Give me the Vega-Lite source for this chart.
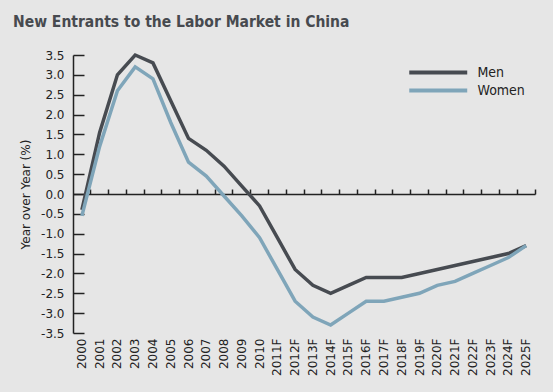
{
  "$schema": "https://vega.github.io/schema/vega-lite/v6.json",
  "width": 462,
  "height": 278,
  "autosize": {"type": "none"},
  "padding": {"left": 73, "top": 55, "right": 18, "bottom": 59},
  "background": "#e6e6e6",
  "config": {"view": {"stroke": null}},
  "title": {
    "text": "New Entrants to the Labor Market in China",
    "anchor": "start",
    "frame": "group",
    "dx": -60,
    "dy": 17,
    "offset": 23,
    "baseline": "alphabetic",
    "font": "DejaVu Sans Condensed, Roboto Condensed, Roboto, sans-serif",
    "fontSize": 15.5,
    "fontWeight": "bold",
    "color": "#474a4f"
  },
  "data": {
    "values": [
      {"year": "2000", "series": "Men", "value": -0.4},
      {"year": "2001", "series": "Men", "value": 1.55},
      {"year": "2002", "series": "Men", "value": 3.0},
      {"year": "2003", "series": "Men", "value": 3.5},
      {"year": "2004", "series": "Men", "value": 3.3},
      {"year": "2005", "series": "Men", "value": 2.35},
      {"year": "2006", "series": "Men", "value": 1.4},
      {"year": "2007", "series": "Men", "value": 1.1},
      {"year": "2008", "series": "Men", "value": 0.7},
      {"year": "2009", "series": "Men", "value": 0.2},
      {"year": "2010", "series": "Men", "value": -0.3},
      {"year": "2011F", "series": "Men", "value": -1.1},
      {"year": "2012F", "series": "Men", "value": -1.9},
      {"year": "2013F", "series": "Men", "value": -2.3},
      {"year": "2014F", "series": "Men", "value": -2.5},
      {"year": "2015F", "series": "Men", "value": -2.3},
      {"year": "2016F", "series": "Men", "value": -2.1},
      {"year": "2017F", "series": "Men", "value": -2.1},
      {"year": "2018F", "series": "Men", "value": -2.1},
      {"year": "2019F", "series": "Men", "value": -2.0},
      {"year": "2020F", "series": "Men", "value": -1.9},
      {"year": "2021F", "series": "Men", "value": -1.8},
      {"year": "2022F", "series": "Men", "value": -1.7},
      {"year": "2023F", "series": "Men", "value": -1.6},
      {"year": "2024F", "series": "Men", "value": -1.5},
      {"year": "2025F", "series": "Men", "value": -1.3},
      {"year": "2000", "series": "Women", "value": -0.55},
      {"year": "2001", "series": "Women", "value": 1.2},
      {"year": "2002", "series": "Women", "value": 2.6},
      {"year": "2003", "series": "Women", "value": 3.2},
      {"year": "2004", "series": "Women", "value": 2.9},
      {"year": "2005", "series": "Women", "value": 1.8},
      {"year": "2006", "series": "Women", "value": 0.8},
      {"year": "2007", "series": "Women", "value": 0.45},
      {"year": "2008", "series": "Women", "value": -0.05},
      {"year": "2009", "series": "Women", "value": -0.55},
      {"year": "2010", "series": "Women", "value": -1.1},
      {"year": "2011F", "series": "Women", "value": -1.9},
      {"year": "2012F", "series": "Women", "value": -2.7},
      {"year": "2013F", "series": "Women", "value": -3.1},
      {"year": "2014F", "series": "Women", "value": -3.3},
      {"year": "2015F", "series": "Women", "value": -3.0},
      {"year": "2016F", "series": "Women", "value": -2.7},
      {"year": "2017F", "series": "Women", "value": -2.7},
      {"year": "2018F", "series": "Women", "value": -2.6},
      {"year": "2019F", "series": "Women", "value": -2.5},
      {"year": "2020F", "series": "Women", "value": -2.3},
      {"year": "2021F", "series": "Women", "value": -2.2},
      {"year": "2022F", "series": "Women", "value": -2.0},
      {"year": "2023F", "series": "Women", "value": -1.8},
      {"year": "2024F", "series": "Women", "value": -1.6},
      {"year": "2025F", "series": "Women", "value": -1.3}
    ]
  },
  "layer": [
    {
      "mark": {"type": "rule", "strokeOpacity": 0},
      "encoding": {
        "x": {
          "field": "year",
          "type": "nominal",
          "sort": null,
          "scale": {"type": "band", "paddingInner": 0, "paddingOuter": 0},
          "axis": {
            "orient": "top",
            "offset": -139,
            "labels": false,
            "title": null,
            "domainColor": "#222222",
            "domainWidth": 1.5,
            "tickColor": "#222222",
            "tickWidth": 1.5,
            "tickSize": 5,
            "bandPosition": 1
          }
        }
      }
    },
    {
      "mark": {"type": "line", "strokeWidth": 3.5},
      "encoding": {
        "x": {
          "field": "year",
          "type": "nominal",
          "sort": null,
          "scale": {"type": "band", "paddingInner": 0, "paddingOuter": 0},
          "axis": {
            "orient": "bottom",
            "labelAngle": 270,
            "domain": false,
            "ticks": false,
            "labelPadding": 5,
            "title": null,
            "labelFont": "DejaVu Sans",
            "labelFontSize": 12,
            "labelColor": "#222222"
          }
        },
        "y": {
          "field": "value",
          "type": "quantitative",
          "scale": {"domain": [-3.5, 3.5], "nice": false, "zero": false},
          "axis": {
            "values": [-3.5, -3, -2.5, -2, -1.5, -1, -0.5, 0, 0.5, 1, 1.5, 2, 2.5, 3, 3.5],
            "labelExpr": "(datum.value < 0 ? '-' : '') + format(abs(datum.value), '.1f')",
            "grid": false,
            "domainColor": "#222222",
            "domainWidth": 1.5,
            "tickColor": "#222222",
            "tickWidth": 1.5,
            "tickSize": -11,
            "labelPadding": 20,
            "labelFont": "DejaVu Sans",
            "labelFontSize": 12,
            "labelColor": "#222222",
            "title": "Year over Year (%)",
            "titleFont": "DejaVu Sans",
            "titleFontSize": 12,
            "titleFontWeight": "normal",
            "titleColor": "#222222",
            "titlePadding": 8
          }
        },
        "color": {
          "field": "series",
          "type": "nominal",
          "scale": {"domain": ["Men", "Women"], "range": ["#474b51", "#7fa5b9"]},
          "legend": {
            "title": null,
            "orient": "none",
            "legendX": 334,
            "legendY": 8,
            "padding": 0,
            "symbolType": "M-1,0H7",
            "symbolSize": 210,
            "symbolStrokeWidth": 4,
            "labelOffset": 51.5,
            "labelFont": "DejaVu Sans Condensed, Roboto Condensed, Roboto, sans-serif",
            "labelFontSize": 14,
            "labelColor": "#222222",
            "rowPadding": 0
          }
        }
      }
    }
  ],
  "resolve": {"axis": {"x": "independent"}}
}
